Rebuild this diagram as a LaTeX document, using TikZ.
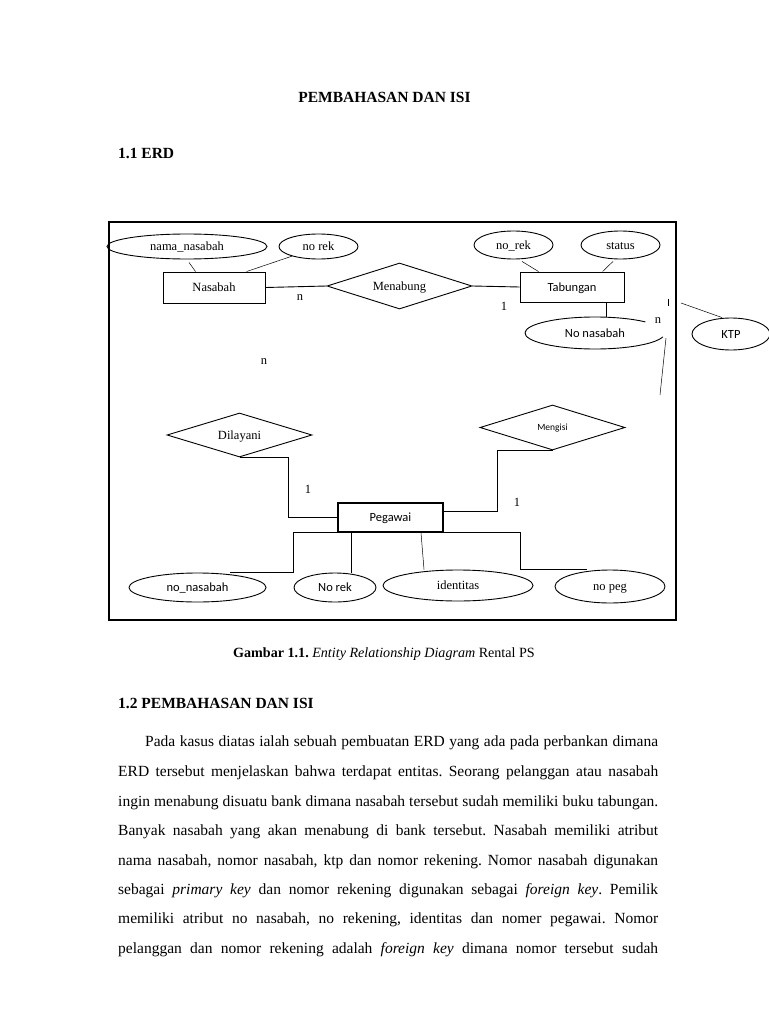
\documentclass[tikz,border=0pt]{standalone}
\usepackage{fontspec}
\setmainfont{Liberation Serif}
\newfontfamily\calib{Carlito}
\usetikzlibrary{shapes.geometric}
\frenchspacing
\begin{document}
\begin{tikzpicture}[x=1pt,y=-1pt,
  ent/.style={draw, rectangle, inner sep=0pt, line width=0.9pt},
  rel/.style={draw, diamond, inner sep=0pt, aspect=3, line width=0.9pt},
  attr/.style={draw, ellipse, inner sep=0pt, line width=0.9pt},
  lbl/.style={font=\fontsize{12.5}{14}\selectfont, text height=8pt, text depth=0pt},
  slbl/.style={font=\calib\fontsize{12.5}{14}\selectfont, text height=8pt, text depth=0pt},
  conn/.style={line width=0.9pt},
  thinln/.style={line width=0.5pt},
  card/.style={inner sep=0pt, font=\fontsize{12.5}{14}\selectfont},
  body/.style={anchor=base west, inner sep=0pt, font=\fontsize{15.5}{18}\selectfont},
  head/.style={inner sep=0pt, font=\bfseries\fontsize{15.5}{18}\selectfont},
]
\fill[white] (0,0) rectangle (768,1024);
\useasboundingbox (0,0) rectangle (768,1024);

% headings
\node[head] (title) at (384.5,97) {PEMBAHASAN DAN ISI};
\node[head, anchor=west] (h11) at (118,153) {1.1 ERD};

% frame
\draw[line width=1.2pt] (109,222) rectangle (676,620);

% upper part
\node[attr, lbl, minimum width=160, minimum height=25] (nama) at (187,246.5) {nama\_nasabah};
\node[attr, lbl, minimum width=79, minimum height=25] (norek) at (318.5,246.5) {no rek};
\node[ent, lbl, minimum width=102, minimum height=31] (nasabah) at (214,287.5) {Nasabah};
\node[rel, lbl, minimum width=145, minimum height=46] (menabung) at (399.5,286) {Menabung};
\node[ent, slbl, minimum width=104, minimum height=30] (tabungan) at (572,287) {Tabungan};
\node[attr, lbl, minimum width=79, minimum height=28] (norek2) at (513.5,245) {no\_rek};
\node[attr, lbl, minimum width=79, minimum height=28] (status) at (620.5,245) {status};
\node[slbl, minimum width=140, minimum height=32, inner sep=0pt] (nonas) at (595,333) {No nasabah};
\node[attr, slbl, minimum width=78, minimum height=32] (ktp) at (731,334) {KTP};

\draw[thinln] ([xshift=2pt,yshift=-3pt]nama.south) -- ([xshift=33pt]nasabah.north west);
\draw[thinln] (norek.200) -- ([xshift=84pt]nasabah.north west);
\draw[conn] (nasabah.east) -- (menabung.west);
\draw[conn] (menabung.east) -- (tabungan.west);
\draw[thinln] ([xshift=8.5pt,yshift=-2pt]norek2.south) -- ([xshift=19pt]tabungan.north west);
\draw[thinln] ([xshift=-7.5pt,yshift=-2pt]status.south) -- ([xshift=83pt]tabungan.north west);
\coordinate (tabx) at ([xshift=34pt]tabungan.south);
\draw[conn] (tabx) -- (tabx |- nonas.north);
\draw[line width=0.9pt] ([shift={(44:70pt and 16pt)}]nonas.center) arc[start angle=44, end angle=346, x radius=70pt, y radius=16pt];

\node[card] (n1) at (300,298) {n};
\node[card] (c1) at (504,306) {1};
\node[card] (n2) at (658,321) {n};
\node[card] (n3) at (264,362) {n};

\coordinate (tk1) at (668,299);
\coordinate (tk2) at (668,306);
\draw[thinln] (tk1) -- (tk2);
\coordinate (kl) at (681,303);
\draw[thinln] (kl) -- ([xshift=-9pt]ktp.north);
\coordinate (ll1) at (666,338);
\coordinate (ll2) at (660,395);
\draw[thinln] (ll1) -- (ll2);

% lower part
\node[rel, lbl, minimum width=145, minimum height=44] (dilayani) at (239.5,435) {Dilayani};
\node[rel, font=\calib\fontsize{9.5}{11}\selectfont, text height=6pt, text depth=0pt, minimum width=145, minimum height=45] (mengisi) at (552.5,427.5) {Mengisi};
\node[ent, slbl, line width=1.3pt, minimum width=105, minimum height=29] (pegawai) at (390.5,517.5) {Pegawai};

\draw[conn] (dilayani.south) -- ++(48.5,0) |- (pegawai.west);
\draw[conn] (mengisi.south) -- ++(-55.5,0) |- ([yshift=6pt]pegawai.east);
\node[card] (c2) at (308,489) {1};
\node[card] (c3) at (517,502) {1};

\node[attr, slbl, minimum width=137, minimum height=29] (nonas2) at (197.5,587.5) {no\_nasabah};
\node[attr, slbl, minimum width=82, minimum height=29] (norek3) at (335,587.5) {No rek};
\node[attr, lbl, minimum width=150, minimum height=31] (ident) at (458,585.5) {identitas};
\node[attr, lbl, minimum width=110, minimum height=33] (nopeg) at (610,586.5) {no peg};

\draw[conn] (pegawai.south west) -- ++(-44,0) |- ([xshift=32pt]nonas2.north);
\coordinate (prx) at ([xshift=14pt]pegawai.south west);
\draw[conn] (prx) -- (prx |- norek3.north);
\draw[thinln] ([xshift=30.5pt]pegawai.south) -- ([xshift=-34pt]ident.north);
\draw[conn] (pegawai.south east) -- ++(77,0) |- ([xshift=-23pt]nopeg.north);

% caption
\node[inner sep=0pt, font=\fontsize{14.1}{17}\selectfont] (cap) at (384,654) {\textbf{Gambar 1.1.} \textit{Entity Relationship Diagram} Rental PS};

\node[head, anchor=west] (h12) at (118,703) {1.2 PEMBAHASAN DAN ISI};

\node[body] (l1) at (145,746) {\hbox to 513pt{Pada kasus diatas ialah sebuah pembuatan ERD yang ada pada perbankan dimana}};
\node[body] (l2) at (118,776) {\hbox to 540pt{ERD tersebut menjelaskan bahwa terdapat entitas. Seorang pelanggan atau nasabah}};
\node[body] (l3) at (118,806) {\hbox to 540pt{ingin menabung disuatu bank dimana nasabah tersebut sudah memiliki buku tabungan.}};
\node[body] (l4) at (118,835) {\hbox to 540pt{Banyak nasabah yang akan menabung di bank tersebut. Nasabah memiliki atribut}};
\node[body] (l5) at (118,865) {\hbox to 540pt{nama nasabah, nomor nasabah, ktp dan nomor rekening. Nomor nasabah digunakan}};
\node[body] (l6) at (118,894) {\hbox to 540pt{sebagai \textit{primary key} dan nomor rekening digunakan sebagai \textit{foreign key}. Pemilik}};
\node[body] (l7) at (118,923) {\hbox to 540pt{memiliki atribut no nasabah, no rekening, identitas dan nomer pegawai. Nomor}};
\node[body] (l8) at (118,953) {\hbox to 540pt{pelanggan dan nomor rekening adalah \textit{foreign key} dimana nomor tersebut sudah}};
\end{tikzpicture}
\end{document}
